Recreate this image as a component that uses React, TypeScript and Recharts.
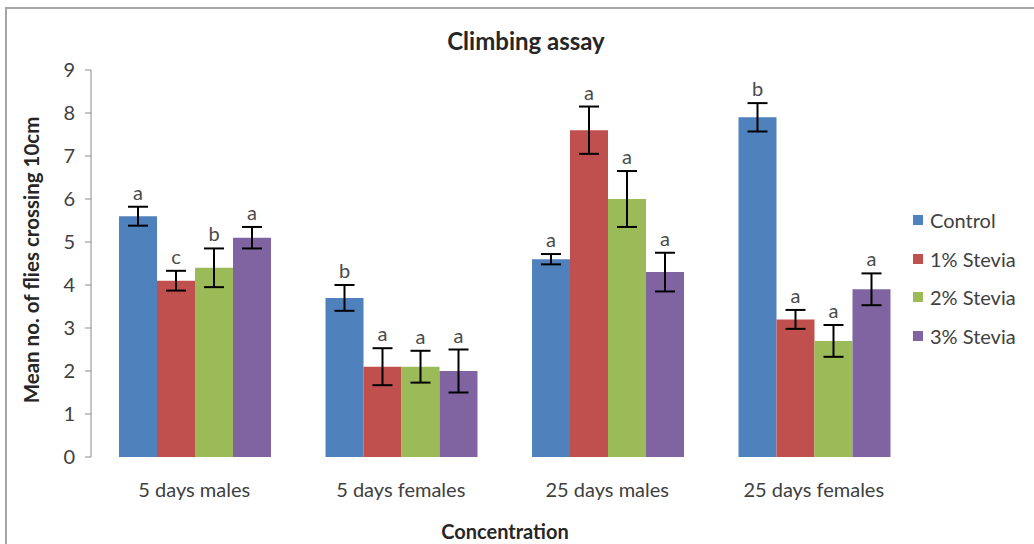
import { BarChart, Bar, XAxis, YAxis, ErrorBar, LabelList, Legend } from "recharts";

const categories = ["5 days males", "5 days females", "25 days males", "25 days females"];
const seriesNames = ["Control", "1% Stevia", "2% Stevia", "3% Stevia"];
const seriesColors = ["#4F81BD", "#C0504D", "#9BBB59", "#8064A2"];

const control = [5.6, 3.7, 4.6, 7.9];
const stevia1 = [4.1, 2.1, 7.6, 3.2];
const stevia2 = [4.4, 2.1, 6.0, 2.7];
const stevia3 = [5.1, 2.0, 4.3, 3.9];

const controlErr = [0.22, 0.3, 0.12, 0.33];
const stevia1Err = [0.23, 0.43, 0.55, 0.22];
const stevia2Err = [0.45, 0.37, 0.65, 0.37];
const stevia3Err = [0.25, 0.5, 0.45, 0.37];

const controlLetters = ["a", "b", "a", "b"];
const stevia1Letters = ["c", "a", "a", "a"];
const stevia2Letters = ["b", "a", "a", "a"];
const stevia3Letters = ["a", "a", "a", "a"];

const yTicks = [0, 1, 2, 3, 4, 5, 6, 7, 8, 9];

const values = [control, stevia1, stevia2, stevia3];
const errors = [controlErr, stevia1Err, stevia2Err, stevia3Err];
const letters = [controlLetters, stevia1Letters, stevia2Letters, stevia3Letters];

const data = categories.map((name, i) => {
  const row: Record<string, string | number> = { name };
  seriesNames.forEach((s, k) => {
    row[`v${k}`] = values[k][i];
    row[`e${k}`] = errors[k][i];
  });
  return row;
});

const font = "Lato, 'Open Sans', sans-serif";
const textColor = "#262626";
const tickColor = "#404040";
const axisColor = "#8c8c8c";

// letter sits above the error bar cap
const letterLabel = (k: number) => (props: any) => {
  const vb = props.viewBox || {};
  const x = props.x ?? vb.x;
  const y = props.y ?? vb.y;
  const width = props.width ?? vb.width;
  const height = props.height ?? vb.height;
  const idx = props.index;
  const v = values[k][idx];
  const pxPerUnit = v ? height / v : 0;
  const top = y - pxPerUnit * errors[k][idx];
  return (
    <text
      x={x + width / 2}
      y={top - 7}
      textAnchor="middle"
      fontSize={20}
      fontFamily={font}
      fill="#4a4a4a"
    >
      {letters[k][idx]}
    </text>
  );
};

const LegendContent = () => (
  <div style={{ fontFamily: font, fontSize: 20, color: tickColor }}>
    {seriesNames.map((s, k) => (
      <div key={s} style={{ display: "flex", alignItems: "center", height: 38.5 }}>
        <span
          style={{
            display: "inline-block",
            width: 10,
            height: 10,
            background: seriesColors[k],
            marginRight: 7,
          }}
        />
        {s}
      </div>
    ))}
  </div>
);

export default function App() {
  return (
    <div
      style={{
        position: "absolute",
        left: 0,
        top: 0,
        width: 1034,
        height: 544,
        background: "#fff",
        overflow: "hidden",
      }}
    >
      <div
        style={{
          position: "absolute",
          left: 5,
          top: 7,
          width: 1029,
          height: 537,
          borderLeft: "2px solid #a6a6a6",
          borderTop: "2px solid #a6a6a6",
          boxSizing: "border-box",
        }}
      />
      <div
        style={{
          position: "absolute",
          left: 0,
          width: 1052,
          top: 26,
          textAlign: "center",
          fontFamily: font,
          fontWeight: 700,
          fontSize: 24,
          color: textColor,
        }}
      >
        Climbing assay
      </div>
      <div
        style={{
          position: "absolute",
          left: 31,
          top: 260,
          transform: "translate(-50%, -50%) rotate(-90deg)",
          whiteSpace: "nowrap",
          fontFamily: font,
          fontWeight: 700,
          fontSize: 20.5,
          color: textColor,
        }}
      >
        Mean no. of flies crossing 10cm
      </div>
      <div
        style={{
          position: "absolute",
          left: 0,
          width: 1010,
          top: 519,
          textAlign: "center",
          fontFamily: font,
          fontWeight: 700,
          fontSize: 20,
          color: textColor,
        }}
      >
        Concentration
      </div>
      <div style={{ position: "absolute", left: 0, top: 0 }}>
        <BarChart
          width={1034}
          height={544}
          data={data}
          margin={{ top: 70, right: 117, left: 31, bottom: 47 }}
          barCategoryGap={28}
          barGap={0}
        >
          <XAxis
            xAxisId="grid"
            type="number"
            domain={[0, 4]}
            ticks={[0, 1, 2, 3, 4]}
            tickFormatter={() => ""}
            height={0}
            stroke={axisColor}
            tickSize={8}
            allowDataOverflow
          />
          <XAxis
            xAxisId="cat"
            dataKey="name"
            axisLine={false}
            tickLine={false}
            height={40}
            tick={{ fill: tickColor, fontSize: 20, fontFamily: font }}
            dy={18}
            interval={0}
          />
          <YAxis
            domain={[0, 9]}
            ticks={yTicks}
            width={60}
            stroke={axisColor}
            tickSize={6}
            tick={{ fill: tickColor, fontSize: 20, fontFamily: font }}
            dx={-8}
            interval={0}
          />
          <Legend
            layout="vertical"
            align="center"
            verticalAlign="middle"
            content={<LegendContent />}
            wrapperStyle={{ left: 913, top: 201, width: 121 }}
          />
          {seriesNames.map((s, k) => (
            <Bar
              key={s}
              xAxisId="cat"
              dataKey={`v${k}`}
              name={s}
              fill={seriesColors[k]}
              isAnimationActive={false}
            >
              <ErrorBar
                dataKey={`e${k}`}
                width={10}
                stroke="#000"
                strokeWidth={2}
                direction="y"
              />
              <LabelList dataKey={`v${k}`} content={letterLabel(k)} />
            </Bar>
          ))}
        </BarChart>
      </div>
    </div>
  );
}
